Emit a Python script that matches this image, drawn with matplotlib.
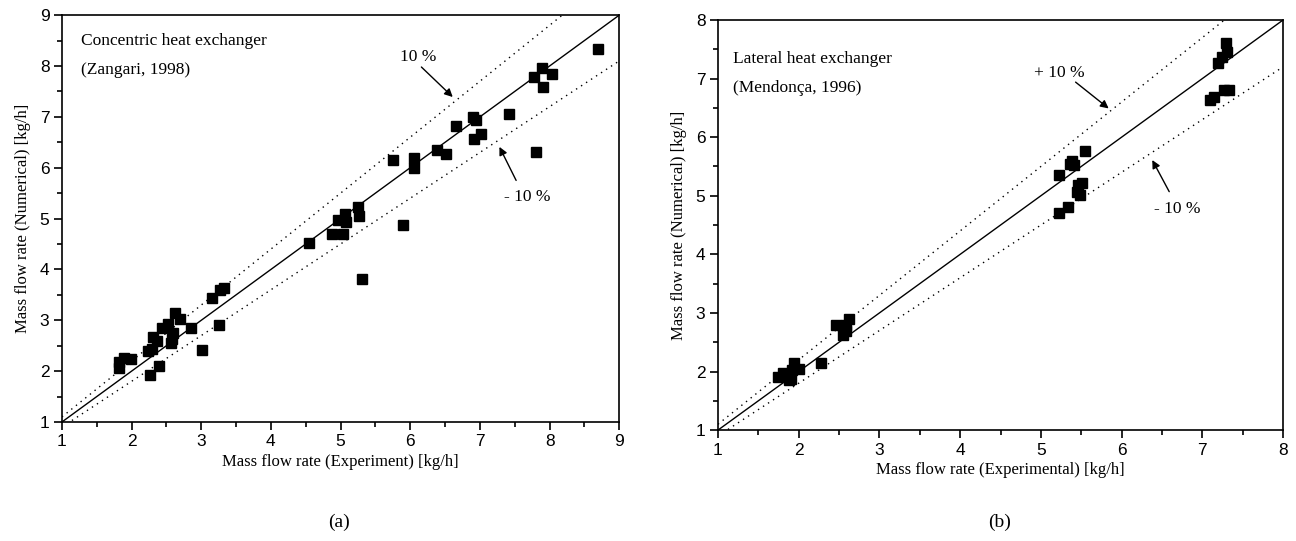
import numpy as np
import matplotlib.pyplot as plt
from matplotlib.ticker import MultipleLocator

# (a) Concentric heat exchanger (Zangari, 1998)
exp_a = [1.82, 1.89, 1.99, 1.82, 2.26, 2.40, 2.23, 2.29, 2.37, 2.31, 2.43, 2.52,
         2.57, 2.59, 2.58, 2.62, 2.70, 2.85, 3.01, 3.16, 3.26, 3.27, 3.33,
         4.55, 4.88, 5.03, 4.96, 5.07, 5.08, 5.25, 5.27, 5.89, 5.31,
         5.75, 6.06, 6.06, 6.38, 6.52, 6.65, 6.90, 6.95, 7.02, 6.92, 7.42,
         7.80, 7.78, 7.89, 8.04, 7.91, 8.70]
num_a = [2.18, 2.26, 2.23, 2.07, 1.93, 2.11, 2.39, 2.44, 2.59, 2.67, 2.84, 2.92,
         2.56, 2.75, 2.63, 3.14, 3.03, 2.84, 2.42, 3.44, 2.90, 3.60, 3.63,
         4.51, 4.69, 4.69, 4.97, 5.09, 4.94, 5.22, 5.05, 4.87, 3.82,
         6.15, 6.20, 6.00, 6.34, 6.27, 6.82, 6.99, 6.93, 6.67, 6.56, 7.05,
         6.31, 7.78, 7.97, 7.84, 7.58, 8.33]

# (b) Lateral heat exchanger (Mendonça, 1996)
exp_b = [1.74, 1.80, 1.86, 1.90, 1.92, 1.94, 2.00, 1.88, 2.28, 2.46, 2.62, 2.58,
         2.55, 2.58, 5.23, 5.33, 5.49, 5.45, 5.46, 5.51, 5.23, 5.36, 5.41, 5.39,
         5.55, 7.09, 7.14, 7.33, 7.27, 7.19, 7.24, 7.30, 7.29]
num_b = [1.90, 1.98, 1.94, 1.88, 2.02, 2.14, 2.04, 1.85, 2.14, 2.79, 2.89, 2.79,
         2.62, 2.70, 4.70, 4.80, 5.01, 5.07, 5.18, 5.22, 5.35, 5.55, 5.52, 5.60,
         5.76, 6.63, 6.68, 6.80, 6.80, 7.26, 7.37, 7.46, 7.60]

serif = ['Liberation Serif', 'DejaVu Serif']
sans = ['Liberation Sans', 'DejaVu Sans']
plt.rcParams['font.family'] = sans

fig = plt.figure(figsize=(12.96, 5.41), dpi=100)
ax1 = fig.add_axes([0.0478, 0.220, 0.430, 0.752])
ax2 = fig.add_axes([0.554, 0.205, 0.436, 0.758])


def panel(ax, x, y, lim, xlabel, title1, title2, tpos):
    lo, hi = 1, lim
    ref = np.array([lo, hi])
    ax.plot(ref, ref, color='black', lw=1)
    ax.plot(ref, 1.1 * ref, color='black', lw=1, ls=(0, (1, 3.3)))
    ax.plot(ref, 0.9 * ref, color='black', lw=1, ls=(0, (1, 3.3)))
    ax.plot(x, y, 's', color='black', ms=6.5, ls='none')
    ax.set_xlim(lo, hi)
    ax.set_ylim(lo, hi)
    ax.xaxis.set_major_locator(MultipleLocator(1))
    ax.yaxis.set_major_locator(MultipleLocator(1))
    ax.xaxis.set_minor_locator(MultipleLocator(0.5))
    ax.yaxis.set_minor_locator(MultipleLocator(0.5))
    ax.tick_params(which='major', direction='out', length=6, width=1.2, labelsize=12.5, pad=3)
    ax.tick_params(which='minor', direction='out', length=3.5, width=1.2)
    for s in ax.spines.values():
        s.set_linewidth(1.2)
    ax.set_xlabel(xlabel, family=serif, fontsize=12, labelpad=3)
    ax.set_ylabel('Mass flow rate (Numerical) [kg/h]', family=serif, fontsize=12, labelpad=6)
    ax.text(tpos[0], tpos[1], title1, transform=ax.transAxes, family=serif, fontsize=12.5, va='center')
    ax.text(tpos[0], tpos[2], title2, transform=ax.transAxes, family=serif, fontsize=12.5, va='center')


panel(ax1, exp_a, num_a, 9, 'Mass flow rate (Experiment) [kg/h]',
      'Concentric heat exchanger', '(Zangari, 1998)', (0.035, 0.936, 0.865))
panel(ax2, exp_b, num_b, 8, 'Mass flow rate (Experimental) [kg/h]',
      'Lateral heat exchanger', '(Mendonça, 1996)', (0.027, 0.905, 0.835))

arrow = dict(arrowstyle='-|>', color='black', lw=1, mutation_scale=12, shrinkA=0, shrinkB=0)
ax1.annotate('', xy=(6.61, 7.39), xytext=(6.16, 7.98), arrowprops=arrow)
ax1.text(6.12, 8.17, '10 %', family=serif, fontsize=12.5, ha='center', va='center')
ax1.annotate('', xy=(7.28, 6.41), xytext=(7.52, 5.75), arrowprops=arrow)
ax1.text(7.68, 5.42, '- 10 %', family=serif, fontsize=12.5, ha='center', va='center')

ax2.annotate('', xy=(5.84, 6.49), xytext=(5.43, 6.94), arrowprops=arrow)
ax2.text(5.23, 7.10, '+ 10 %', family=serif, fontsize=12.5, ha='center', va='center')
ax2.annotate('', xy=(6.38, 5.61), xytext=(6.59, 5.07), arrowprops=arrow)
ax2.text(6.69, 4.78, '- 10 %', family=serif, fontsize=12.5, ha='center', va='center')

fig.text(339 / 1296, 1 - 522 / 541, '(a)', family=serif, fontsize=14, ha='center', va='center')
fig.text(1000 / 1296, 1 - 522 / 541, '(b)', family=serif, fontsize=14, ha='center', va='center')

fig.savefig('out.png', dpi=100)
